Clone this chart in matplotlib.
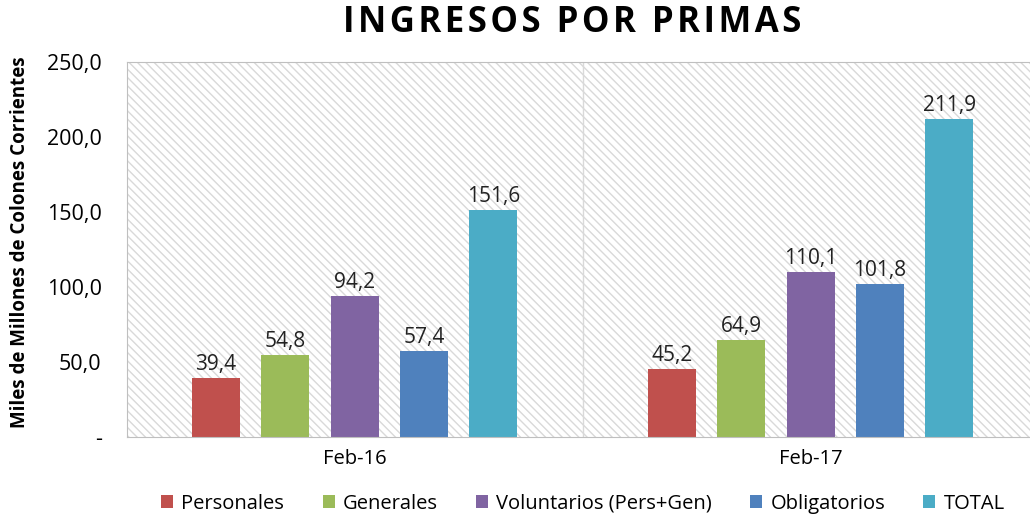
import matplotlib.pyplot as plt
import matplotlib.patches as mpatches
import numpy as np

periodos = ['Feb-16', 'Feb-17']
series = ['Personales', 'Generales', 'Voluntarios (Pers+Gen)', 'Obligatorios', 'TOTAL']
personales = [39.4, 45.2]
generales = [54.8, 64.9]
voluntarios = [94.2, 110.1]
obligatorios = [57.4, 101.8]
total = [151.6, 211.9]
colores = ['#c0504d', '#9bbb59', '#8064a2', '#4f81bd', '#4bacc6']

plt.rcParams['font.family'] = ['Open Sans', 'DejaVu Sans']

fig = plt.figure(figsize=(10.3, 5.15), dpi=100)
ax = fig.add_axes([0.123, 0.1515, 0.8855, 0.728])

# fondo rayado
ax.add_patch(mpatches.Rectangle((0, 0), 1, 1, transform=ax.transAxes, facecolor='white',
                                edgecolor='#d9d9d9', hatch='\\\\\\\\', linewidth=0, zorder=0))
ax.axvline(0.5, color='#d9d9d9', lw=1, zorder=1)

x = np.arange(len(periodos))
w = 0.105
paso = 0.152
valores = [personales, generales, voluntarios, obligatorios, total]
for i, (nombre, vals) in enumerate(zip(series, valores)):
    pos = x + (i - 2) * paso
    ax.bar(pos, vals, w, color=colores[i], label=nombre, zorder=2)
    for p, v in zip(pos, vals):
        ax.text(p, v + 2, f'{v:.1f}'.replace('.', ','), ha='center', va='bottom',
                fontsize=15, color='#222222')

ax.set_xlim(-0.5, 1.5)
ax.set_ylim(0, 250)
ax.set_yticks(np.arange(0, 251, 50))
ax.set_yticklabels(['-'] + [f'{v:.1f}'.replace('.', ',') for v in np.arange(50, 251, 50)],
                   fontsize=15.5)
ax.set_xticks(x)
ax.set_xticklabels(periodos, fontsize=14.5)
ax.tick_params(length=0, pad=9)
ax.tick_params(axis='y', pad=18)
for s in ax.spines.values():
    s.set_color('#bfbfbf')

fig.text(0.019, 0.53, 'Miles de Millones de Colones Corrientes', rotation=90, ha='center',
         va='center', fontsize=13.5, fontweight='bold')
fig.text(0.556, 0.955, '\u200a'.join('INGRESOS POR PRIMAS'),
         ha='center', va='center', fontsize=25, fontweight='bold')

fig.legend(loc='center', bbox_to_anchor=(0.566, 0.022), ncol=5, frameon=False, fontsize=14.5,
           handlelength=0.6, handleheight=0.6, handletextpad=0.4, columnspacing=1.9)

plt.savefig('out.png', dpi=100)
